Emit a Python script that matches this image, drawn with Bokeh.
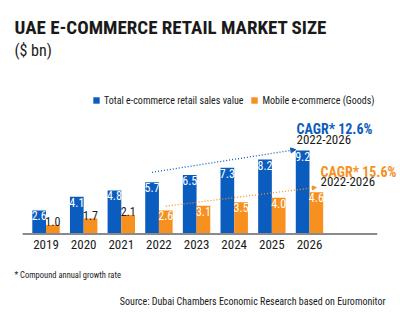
from bokeh.plotting import figure
from bokeh.models import Range1d, Label, Legend, LegendItem, ColumnDataSource, Arrow, NormalHead
from bokeh.core.properties import value
from bokeh.embed import file_html
from bokeh.resources import INLINE

# ---- data ----
years = ["2019", "2020", "2021", "2022", "2023", "2024", "2025", "2026"]
total = [2.6, 4.1, 4.8, 5.7, 6.5, 7.3, 8.2, 9.2]
mobile = [1.0, 1.7, 2.1, 2.6, 3.1, 3.5, 4.0, 4.6]
series_names = ["Total e-commerce retail sales value", "Mobile e-commerce (Goods)"]
cagr_total = "CAGR* 12.6%"
cagr_mobile = "CAGR* 15.6%"
cagr_period = "2022-2026"
title_text = "UAE E-COMMERCE RETAIL MARKET SIZE"
unit_text = "($ bn)"
footnote = "* Compound annual growth rate"
source_text = "Source: Dubai Chambers Economic Research based on Euromonitor"

# ---- style ----
BLUE = "#0b5cbf"
ORANGE = "#f7901e"
DARK = "#1a1a1a"
FONT = "Roboto Condensed"
W, H = 400, 323
BW = 0.364  # bar width (category units)

n = len(years)
xs = list(range(n))
x_tot = [i - BW / 2 for i in xs]
x_mob = [i + BW / 2 for i in xs]

src = ColumnDataSource(dict(x=xs, year=years, x_tot=x_tot, x_mob=x_mob,
                            total=total, mobile=mobile,
                            tlab=[f"{v:.1f}" for v in total]))
inside = [i for i, v in enumerate(mobile) if v >= 2.5]
outside = [i for i, v in enumerate(mobile) if v < 2.5]
src_in = ColumnDataSource(dict(x=[x_mob[i] for i in inside], y=[mobile[i] for i in inside],
                               t=[f"{mobile[i]:.1f}" for i in inside]))
src_out = ColumnDataSource(dict(x=[x_mob[i] for i in outside], y=[mobile[i] for i in outside],
                                t=[f"{mobile[i]:.1f}" for i in outside]))

p = figure(width=W, height=H, x_range=Range1d(-1.209, 9.418), y_range=Range1d(-9.87, 25.74),
           x_axis_type=None, y_axis_type=None, output_backend="svg",
           toolbar_location=None, min_border=0)
p.grid.visible = False
p.outline_line_color = None
p.background_fill_color = "white"

rb = p.vbar(x="x_tot", top="total", width=BW, source=src, color=BLUE, line_color=None)
ro = p.vbar(x="x_mob", top="mobile", width=BW, source=src, color=ORANGE, line_color=None)

# baseline
p.segment(x0=xs[0] - 0.62, y0=0, x1=xs[-1] + 1.8, y1=0, line_color="#8a8a8a", line_width=2)

# value labels
p.text(x="x_tot", y="total", text="tlab", source=src, text_align="center", text_baseline="top",
       y_offset=1, text_color="white", text_font=value(FONT), text_font_size="12px")
p.text(x="x", y="y", text="t", source=src_in, text_align="center", text_baseline="top",
       y_offset=1, text_color="white", text_font=value(FONT), text_font_size="12px")
p.text(x="x", y="y", text="t", source=src_out, text_align="center", text_baseline="bottom",
       y_offset=1, text_color=DARK, text_font=value(FONT), text_font_size="12px")

# year labels
p.text(x="x", y=0, text="year", source=src, text_align="center", text_baseline="top",
       y_offset=6, text_color=DARK, text_font=value(FONT), text_font_size="13px")

# trend arrows
i0, i1 = years.index("2022"), years.index("2026")
p.add_layout(Arrow(x_start=x_tot[i0], y_start=total[i0] + 1.1, x_end=x_tot[i1] - BW / 2,
                   y_end=total[i1] + 0.1, line_color=BLUE, line_width=1.3, line_dash="1 2",
                   end=NormalHead(size=5, fill_color=BLUE, line_color=BLUE)))
p.add_layout(Arrow(x_start=x_mob[i0], y_start=mobile[i0] + 0.47, x_end=x_mob[i1],
                   y_end=mobile[i1] + 0.53, line_color=ORANGE, line_width=1.3, line_dash="1 2",
                   end=NormalHead(size=4, fill_color=ORANGE, line_color=ORANGE)))

# legend
legend = Legend(items=[LegendItem(label=series_names[0], renderers=[rb]),
                       LegendItem(label=series_names[1], renderers=[ro])],
                orientation="horizontal", location=(92, 217), glyph_width=8, glyph_height=8,
                label_height=12, label_standoff=4, spacing=7, padding=0, margin=0,
                border_line_color=None, background_fill_alpha=0,
                label_text_font=FONT, label_text_font_size="10px", label_text_color=DARK)
p.add_layout(legend)

def lab(x, y, text, size, color=DARK, style="normal", align="left"):
    p.add_layout(Label(x=x, y=y, x_units="screen", y_units="screen", text=text,
                       text_font=FONT, text_font_size=size, text_color=color,
                       text_font_style=style, text_baseline="top", text_align=align))

lab(14, H - 15, title_text, "19px", DARK, "bold")
lab(14, H - 40, unit_text, "16px")
lab(296, H - 120, cagr_total, "14px", BLUE, "bold")
lab(296, H - 134, cagr_period, "13px")
lab(320, H - 163, cagr_mobile, "14px", ORANGE, "bold")
lab(320, H - 176, cagr_period, "13px")
lab(14, H - 269, footnote, "8.5px")
lab(385, H - 295, source_text, "10px", align="right")

open("out.html", "w").write(file_html(p, INLINE))
